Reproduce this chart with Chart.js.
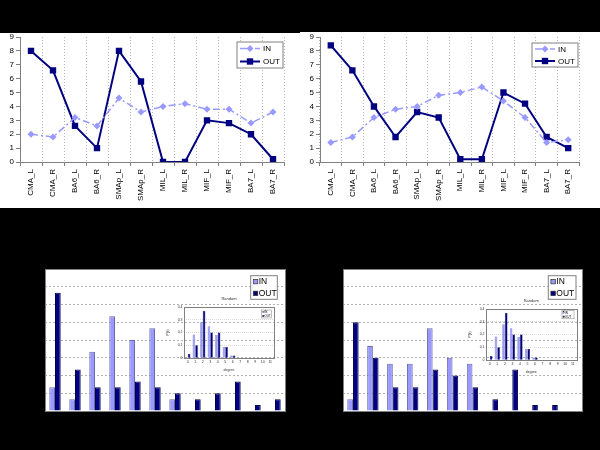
<!DOCTYPE html>
<html>
<head>
<meta charset="utf-8">
<script src="https://cdn.jsdelivr.net/npm/chart.js"></script>
<style>
    html, body { margin: 0; padding: 0; background: #000; }
    body { position: relative; width: 600px; height: 450px; overflow: hidden; }
    .sheet { position: absolute; background: #fff; }
    .holder { position: absolute; }
    canvas { display: block; }
</style>
</head>
<body>

<div class="sheet" style="left:0;top:33px;width:300px;height:175px"></div>
<div class="sheet" style="left:300px;top:32px;width:300px;height:176px"></div>

<div class="holder" style="left:0;top:20px"><canvas id="lineLeft" width="300" height="200"></canvas></div>
<div class="holder" style="left:300px;top:20px"><canvas id="lineRight" width="300" height="200"></canvas></div>
<div class="holder" style="left:0;top:255px"><canvas id="barLeft" width="300" height="195"></canvas></div>
<div class="holder" style="left:300px;top:255px"><canvas id="barRight" width="300" height="195"></canvas></div>
<div class="holder" style="left:160px;top:293px"><canvas id="insetLeft" width="125" height="80"></canvas></div>
<div class="holder" style="left:462px;top:295px"><canvas id="insetRight" width="125" height="80"></canvas></div>

<script>

/* ==========================================
   Data
========================================== */

const regions = ['CMA_L', 'CMA_R', 'BA6_L', 'BA6_R', 'SMAp_L', 'SMAp_R', 'MIL_L', 'MIL_R', 'MIF_L', 'MIF_R', 'BA7_L', 'BA7_R'];

const leftIn = [2.0, 1.8, 3.2, 2.6, 4.6, 3.6, 4.0, 4.2, 3.8, 3.8, 2.8, 3.6];
const leftOut = [8.0, 6.6, 2.6, 1.0, 8.0, 5.8, 0.0, 0.0, 3.0, 2.8, 2.0, 0.2];

const rightIn = [1.4, 1.8, 3.2, 3.8, 4.0, 4.8, 5.0, 5.4, 4.4, 3.2, 1.4, 1.6];
const rightOut = [8.4, 6.6, 4.0, 1.8, 3.6, 3.2, 0.2, 0.2, 5.0, 4.2, 1.8, 1.0];

const degrees = ['0', '1', '2', '3', '4', '5', '6', '7', '8', '9', '10', '11'];

const leftDegIn = [0.067, 0.033, 0.167, 0.267, 0.2, 0.233, 0.033, 0, 0, 0, 0, 0];
const leftDegOut = [0.333, 0.117, 0.067, 0.067, 0.083, 0.067, 0.05, 0.033, 0.05, 0.083, 0.017, 0.033];

const rightDegIn = [0.033, 0.183, 0.133, 0.133, 0.233, 0.15, 0.133, 0, 0, 0, 0, 0];
const rightDegOut = [0.25, 0.15, 0.067, 0.067, 0.117, 0.1, 0.067, 0.033, 0.117, 0.017, 0.017, 0];

const randomIn = [0, 0.185, 0.28, 0.25, 0.18, 0.086, 0.02, 0, 0, 0, 0, 0];
const randomOut = [0.032, 0.1, 0.37, 0.2, 0.2, 0.086, 0.02, 0, 0, 0, 0, 0];

const seriesNames = ['IN', 'OUT'];

const FONT = 'Arial, "Liberation Sans", sans-serif';
const IN_COLOR = '#9999ff';
const OUT_COLOR = '#000080';


/* ==========================================
   Plugins
========================================== */

// white plot area + grey frame
const plotFrame = {
    id: 'plotFrame',
    beforeDraw: function (chart, args, opts) {
        if (!opts.fill) {
            return;
        }
        const a = chart.chartArea;
        chart.ctx.save();
        chart.ctx.fillStyle = opts.fill;
        chart.ctx.fillRect(a.left, a.top, a.right - a.left, a.bottom - a.top);
        chart.ctx.restore();
    },
    afterDatasetsDraw: function (chart, args, opts) {
        if (!opts.stroke) {
            return;
        }
        const a = chart.chartArea;
        const ctx = chart.ctx;
        ctx.save();
        ctx.strokeStyle = opts.stroke;
        ctx.lineWidth = 1;
        ctx.strokeRect(Math.round(a.left) + 0.5, Math.round(a.top) + 0.5,
            Math.round(a.right - a.left), Math.round(a.bottom - a.top));
        ctx.restore();
    }
};

function drawMarker(ctx, style, x, y, r) {
    ctx.beginPath();
    if (style === 'rectRot') {
        ctx.moveTo(x, y - r);
        ctx.lineTo(x + r, y);
        ctx.lineTo(x, y + r);
        ctx.lineTo(x - r, y);
        ctx.closePath();
    } else {
        const s = r * Math.SQRT1_2;
        ctx.rect(x - s, y - s, 2 * s, 2 * s);
    }
    ctx.fill();
}

// Excel-like legend box
const keyBox = {
    id: 'keyBox',
    afterDraw: function (chart, args, opts) {
        if (!opts.box) {
            return;
        }
        const ctx = chart.ctx;
        const x = opts.box[0], y = opts.box[1], w = opts.box[2], h = opts.box[3];
        const sets = chart.data.datasets;

        ctx.save();
        ctx.fillStyle = '#ffffff';
        ctx.fillRect(x, y, w, h);
        ctx.strokeStyle = '#808080';
        ctx.lineWidth = opts.frame || 1;
        ctx.strokeRect(x, y, w, h);
        ctx.textBaseline = 'middle';

        sets.forEach(function (ds, i) {
            const cy = y + h * (i + 0.5) / sets.length;
            let tx;
            if (opts.lines) {
                ctx.strokeStyle = ds.borderColor;
                ctx.lineWidth = ds.borderWidth;
                ctx.setLineDash(ds.borderDash || []);
                ctx.beginPath();
                ctx.moveTo(x + 3, cy);
                ctx.lineTo(x + 23, cy);
                ctx.stroke();
                ctx.setLineDash([]);
                ctx.fillStyle = ds.borderColor;
                drawMarker(ctx, ds.pointStyle, x + 13, cy, ds.pointRadius);
                tx = x + 26;
                ctx.font = opts.fontSize + 'px ' + FONT;
            } else {
                const s = h * 0.19;
                ctx.fillStyle = ds.backgroundColor;
                ctx.fillRect(x + h * 0.11, cy - s / 2, s, s);
                ctx.strokeStyle = '#333333';
                ctx.lineWidth = h * 0.03;
                ctx.strokeRect(x + h * 0.11, cy - s / 2, s, s);
                tx = x + h * 0.34;
                ctx.font = (h * 0.36) + 'px ' + FONT;
            }
            ctx.fillStyle = '#000000';
            ctx.fillText(ds.label, tx, cy + 0.5);
        });

        ctx.restore();
    }
};


/* ==========================================
   Line charts (top)
========================================== */

function createLineChart(canvasId, inValues, outValues, legendBox, rightPad) {

    new Chart(document.getElementById(canvasId), {

        type: 'line',

        data: {
            labels: regions,
            datasets: [
                {
                    label: seriesNames[0],
                    data: inValues,
                    borderColor: IN_COLOR,
                    backgroundColor: IN_COLOR,
                    borderWidth: 1.5,
                    borderDash: [7, 3, 2, 3],
                    pointStyle: 'rectRot',
                    pointRadius: 3.5,
                    pointBorderWidth: 0,
                    tension: 0
                },
                {
                    label: seriesNames[1],
                    data: outValues,
                    borderColor: OUT_COLOR,
                    backgroundColor: OUT_COLOR,
                    borderWidth: 2,
                    pointStyle: 'rect',
                    pointRadius: 4.5,
                    pointBorderWidth: 0,
                    tension: 0
                }
            ]
        },

        options: {
            responsive: false,
            animation: false,
            layout: {
                padding: { left: 0, right: rightPad, top: 17, bottom: 0 }
            },
            plugins: {
                legend: { display: false },
                tooltip: { enabled: false },
                keyBox: { box: legendBox, lines: true, fontSize: 8 },
                plotFrame: {}
            },
            scales: {
                x: {
                    offset: true,
                    grid: {
                        offset: true,
                        color: '#b4b4b4',
                        tickLength: 4,
                        tickColor: '#808080'
                    },
                    border: { color: '#808080', dash: [1, 2] },
                    ticks: {
                        autoSkip: false,
                        minRotation: 90,
                        maxRotation: 90,
                        padding: 3,
                        color: '#000000',
                        font: { size: 8, family: FONT }
                    },
                    afterFit: function (scale) {
                        scale.height = 58;
                        scale.paddingLeft = 0;
                        scale.paddingRight = 0;
                    }
                },
                y: {
                    min: 0,
                    max: 9,
                    grid: {
                        drawOnChartArea: false,
                        tickLength: 4,
                        color: '#808080'
                    },
                    border: { color: '#808080' },
                    ticks: {
                        stepSize: 1,
                        padding: 2,
                        color: '#000000',
                        font: { size: 8, family: FONT }
                    },
                    afterFit: function (scale) {
                        scale.width = 20;
                        scale.paddingTop = 0;
                        scale.paddingBottom = 0;
                    }
                }
            }
        },

        plugins: [keyBox, plotFrame]
    });
}


/* ==========================================
   Bar charts (bottom) + insets
========================================== */

function barSets(inValues, outValues) {
    return [
        {
            label: seriesNames[0],
            data: inValues,
            backgroundColor: IN_COLOR,
            borderColor: '#6a6aa8',
            borderWidth: 1
        },
        {
            label: seriesNames[1],
            data: outValues,
            backgroundColor: OUT_COLOR,
            borderColor: '#00004a',
            borderWidth: 1
        }
    ];
}

function createBarChart(canvasId, inValues, outValues, legendBox, padding) {

    new Chart(document.getElementById(canvasId), {

        type: 'bar',

        data: {
            labels: degrees,
            datasets: barSets(inValues, outValues)
        },

        options: {
            responsive: false,
            animation: false,
            categoryPercentage: 0.57,
            barPercentage: 1,
            layout: { padding: padding },
            plugins: {
                legend: { display: false },
                tooltip: { enabled: false },
                keyBox: { box: legendBox, lines: false },
                plotFrame: { fill: '#ffffff', stroke: '#808080' }
            },
            scales: {
                x: {
                    grid: { display: false, drawTicks: false },
                    border: { display: false },
                    ticks: { display: false },
                    afterFit: function (scale) {
                        scale.height = 0;
                        scale.paddingLeft = 0;
                        scale.paddingRight = 0;
                    }
                },
                y: {
                    min: 0,
                    max: 0.4,
                    grid: { color: '#b0b0b0', drawTicks: false },
                    border: { display: false, dash: [2, 2] },
                    ticks: { display: false, stepSize: 0.05 },
                    afterFit: function (scale) {
                        scale.width = 0;
                        scale.paddingTop = 0;
                        scale.paddingBottom = 0;
                    }
                }
            }
        },

        plugins: [keyBox, plotFrame]
    });
}

function createInsetChart(canvasId, legendBox, rightPad) {

    const small = { size: 3.5, family: FONT };

    new Chart(document.getElementById(canvasId), {

        type: 'bar',

        data: {
            labels: degrees,
            datasets: barSets(randomIn, randomOut).map(function (ds) {
                ds.borderWidth = 0.5;
                return ds;
            })
        },

        options: {
            responsive: false,
            animation: false,
            categoryPercentage: 0.7,
            barPercentage: 1,
            layout: { padding: { left: 6, right: rightPad, top: 0, bottom: 0 } },
            plugins: {
                legend: { display: false },
                tooltip: { enabled: false },
                title: {
                    display: true,
                    text: 'Random',
                    fullSize: false,
                    color: '#333333',
                    font: { size: 4, family: FONT, weight: 'normal' },
                    padding: { top: 3.6, bottom: 5.6 }
                },
                keyBox: { box: legendBox, lines: false, frame: 0.5 },
                plotFrame: { stroke: '#808080' }
            },
            scales: {
                x: {
                    grid: { display: false, drawTicks: false },
                    border: { display: false },
                    ticks: {
                        autoSkip: false,
                        maxRotation: 0,
                        padding: 2,
                        color: '#333333',
                        font: small
                    },
                    title: {
                        display: true,
                        text: 'degree',
                        color: '#333333',
                        font: small,
                        padding: 1
                    },
                    afterFit: function (scale) {
                        scale.height = 15;
                        scale.paddingLeft = 0;
                        scale.paddingRight = 0;
                    }
                },
                y: {
                    min: 0,
                    max: 0.4,
                    grid: { color: '#b4b4b4', drawTicks: false, lineWidth: 0.5 },
                    border: { display: false, dash: [1, 1] },
                    ticks: {
                        stepSize: 0.05,
                        padding: 1.5,
                        color: '#333333',
                        font: small,
                        callback: function (value) {
                            return String(Math.round(value * 100) / 100).replace('.', ',');
                        }
                    },
                    title: {
                        display: true,
                        text: 'P(k)',
                        color: '#333333',
                        font: small,
                        padding: 0
                    },
                    afterFit: function (scale) {
                        scale.width = 18;
                        scale.paddingTop = 0;
                        scale.paddingBottom = 0;
                    }
                }
            }
        },

        plugins: [keyBox, plotFrame]
    });
}


createLineChart('lineLeft', leftIn, leftOut, [237, 22, 46, 26], 16);
createLineChart('lineRight', rightIn, rightOut, [232, 23, 46, 24], 21);

createBarChart('barLeft', leftDegIn, leftDegOut, [250.7, 20.7, 26.6, 23.6],
    { left: 45, right: 15, top: 14, bottom: 39 });
createBarChart('barRight', rightDegIn, rightDegOut, [248.3, 20.7, 27.7, 23.6],
    { left: 43, right: 18, top: 14, bottom: 39 });

createInsetChart('insetLeft', [101.7, 17, 10, 8], 11);
createInsetChart('insetRight', [100, 15.5, 12, 8.3], 10.5);

</script>
</body>
</html>
